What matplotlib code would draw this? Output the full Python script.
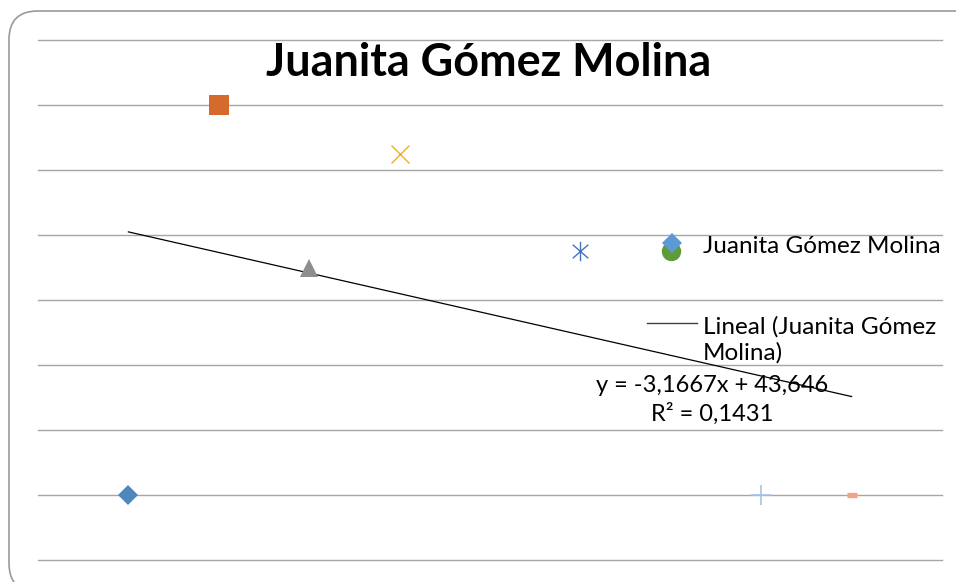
import matplotlib.pyplot as plt
import numpy as np
from matplotlib.path import Path
from matplotlib.patches import FancyBboxPatch
from matplotlib.lines import Line2D

plt.rcParams['font.family'] = ['Lato', 'DejaVu Sans']

# Datos
x = np.array([1, 2, 3, 4, 6, 7, 8, 9])
y = np.array([0, 60, 35, 52.5, 37.5, 37.5, 0, 0])
titulo = 'Juanita Gómez Molina'
ecuacion = 'y = -3,1667x + 43,646\nR² = 0,1431'

W, H = 956, 582

def fx(px):
    return px / W

def fy(py):
    return 1 - py / H

# marcador asterisco estilo Excel
star = Path([(0, -1), (0, 1), (-0.8, -0.7), (0.8, 0.7), (-0.8, 0.7), (0.8, -0.7)],
            [Path.MOVETO, Path.LINETO, Path.MOVETO, Path.LINETO, Path.MOVETO, Path.LINETO])

estilos = [
    dict(marker='D', ms=10, color='#4F86BE', mew=0),
    dict(marker='s', ms=14, color='#D46A2B', mew=0),
    dict(marker='^', ms=13.5, color='#8E8E8E', mew=0),
    dict(marker='x', ms=13.5, color='#EDB120', mew=1.0),
    dict(marker=star, ms=14, color='#4472C4', mew=1.0),
    dict(marker='o', ms=14, color='#5E9B3A', mew=0),
    dict(marker='+', ms=14, color='#A4C2EA', mew=1.2),
    dict(marker='_', ms=7.5, color='#F2A584', mew=3.8),
]

fig = plt.figure(figsize=(9.56, 5.82), dpi=100)
ax = fig.add_axes([fx(38), fy(560), fx(942) - fx(38), fy(40) - fy(560)])

# marco redondeado
marco = FancyBboxPatch((fx(9), fy(592)), fx(990) - fx(9), fy(11) - fy(592),
                       boxstyle='round,pad=0,rounding_size=0.03',
                       transform=fig.transFigure, fill=False,
                       edgecolor='#9A9A9A', linewidth=1.2, mutation_aspect=W / H)
fig.patches.append(marco)

# línea de tendencia
a, b = np.polyfit(x, y, 1)
xl = np.array([x.min(), x.max()])
ax.plot(xl, a * xl + b, color='black', linewidth=0.9, zorder=3)

for xi, yi, st in zip(x, y, estilos):
    ax.plot(xi, yi, linestyle='none', marker=st['marker'], markersize=st['ms'],
            color=st['color'], markeredgewidth=st['mew'], zorder=4)

ax.set_xlim(0, 10)
ax.set_ylim(-10, 70)
ax.set_yticks(np.arange(-10, 71, 10))
ax.set_xticks([])
ax.grid(True, axis='y', color='#A6A6A6', linewidth=1)
for gl in ax.get_ygridlines():
    gl.set_clip_on(False)
ax.tick_params(left=False, labelleft=False)
for s in ax.spines.values():
    s.set_visible(False)
ax.set_axisbelow(True)

# título
fig.text(fx(489), fy(76), titulo, ha='center', va='baseline',
         fontsize=32.4, fontweight='bold')

# leyenda
fig.add_artist(Line2D([fx(672)], [fy(243)], marker='D', markersize=10,
                      color='#5B9BD5', markeredgewidth=0, transform=fig.transFigure))
fig.add_artist(Line2D([fx(647), fx(697)], [fy(323), fy(323)], color='#404040',
                      linewidth=1, transform=fig.transFigure))
fig.text(fx(703), fy(253), titulo, ha='left', va='baseline', fontsize=17.5)
fig.text(fx(703), fy(334), 'Lineal (Juanita Gómez', ha='left', va='baseline', fontsize=17.5)
fig.text(fx(703), fy(360), 'Molina)', ha='left', va='baseline', fontsize=17.5)

# ecuación
fig.text(fx(712), fy(392), ecuacion.split('\n')[0], ha='center', va='baseline', fontsize=17)
fig.text(fx(712), fy(421), ecuacion.split('\n')[1], ha='center', va='baseline', fontsize=17)

fig.savefig('out.png', dpi=100)
